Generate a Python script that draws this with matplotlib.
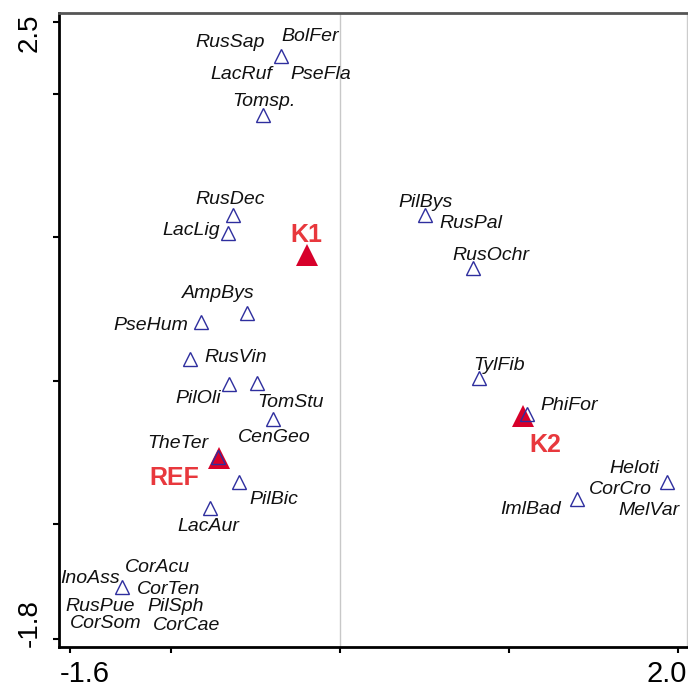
import matplotlib
matplotlib.use("Agg")
import matplotlib.pyplot as plt
import matplotlib.transforms as mtransforms

# ---- data (ordination scores) ----
species = ["RusSap", "BolFer", "LacRuf", "PseFla", "Tomsp.", "RusDec", "LacLig",
           "AmpBys", "PseHum", "RusVin", "PilOli", "TomStu", "CenGeo", "TheTer",
           "PilBic", "LacAur", "CorAcu", "InoAss", "CorTen", "RusPue", "PilSph",
           "CorSom", "CorCae", "PilBys", "RusPal", "RusOchr", "TylFib", "PhiFor",
           "ImlBad", "Heloti", "CorCro", "MelVar"]
sp_x = [-0.351, -0.351, -0.351, -0.351, -0.457, -0.635, -0.665,
        -0.552, -0.824, -0.889, -0.659, -0.493, -0.398, -0.722,
        -0.599, -0.771, -1.292, -1.292, -1.292, -1.292, -1.292,
        -1.292, -1.292, 0.502, 0.502, 0.786, 0.822, 1.106,
        1.402, 1.935, 1.935, 1.935]
sp_y = [2.263, 2.263, 2.263, 2.263, 1.852, 1.155, 1.030,
        0.472, 0.409, 0.152, -0.023, -0.016, -0.267, -0.532,
        -0.706, -0.887, -1.437, -1.437, -1.437, -1.437, -1.437,
        -1.437, -1.437, 1.155, 1.155, 0.786, 0.019, -0.232,
        -0.824, -0.706, -0.706, -0.706]

sites = ["K1", "REF", "K2"]
site_x = [-0.197, -0.718, 1.082]
site_y = [0.876, -0.538, -0.246]

xtick_vals = [-1.6, -1.0, 0.0, 1.0, 2.0]
xtick_labels = ["-1.6", "", "", "", "2.0"]
ytick_vals = [2.5, 2.0, 1.0, 0.0, -1.0, -1.8]
ytick_labels = ["2.5", "", "", "", "", "-1.8"]

# ---- layout: label offsets in pixels (dx right, dy down) from the point to baseline centre ----
sp_off = {
    "RusSap": (-51, -9), "BolFer": (29, -15), "LacRuf": (-40, 23), "PseFla": (40, 23),
    "Tomsp.": (1, -9), "RusDec": (-3, -11), "LacLig": (-37, 2), "AmpBys": (-29, -15),
    "PseHum": (-50, 8), "RusVin": (46, 3), "PilOli": (-31, 19), "TomStu": (34, 24),
    "CenGeo": (1, 23), "TheTer": (-40, -9), "PilBic": (35, 22), "LacAur": (-2, 23),
    "CorAcu": (35, -15), "InoAss": (-32, -4), "CorTen": (47, 7), "RusPue": (-22, 24),
    "PilSph": (54, 24), "CorSom": (-16, 41), "CorCae": (65, 43), "PilBys": (1, -8),
    "RusPal": (46, 13), "RusOchr": (18, -8), "TylFib": (20, -8), "PhiFor": (42, -4),
    "ImlBad": (-46, 15), "Heloti": (-33, -9), "CorCro": (-47, 12), "MelVar": (-18, 33),
}
site_off = {"K1": (-1, -13), "REF": (-45, 27), "K2": (22, 36)}

PX2PT = 0.72

fig = plt.figure(figsize=(6.88, 6.87), dpi=100)
ax = fig.add_axes([59 / 688, 40 / 687, 628 / 688, 634 / 687])
ax.set_xlim(-1.665, 2.053)
ax.set_ylim(-1.855, 2.563)

ax.axvline(0.0, color="#c8c8c8", lw=1.0, zorder=0)

ax.plot(site_x, site_y, linestyle="none", marker="^", ms=16, color="#D7002A",
        markeredgewidth=0, zorder=2)

# draw each distinct species position once (several species share coordinates)
uniq = sorted(set(zip(sp_x, sp_y)))
ux = [p[0] for p in uniq]
uy = [p[1] for p in uniq]
ax.plot(ux, uy, linestyle="none", marker="^", ms=9.5, markerfacecolor="none",
        markeredgecolor="#2E2E9E", markeredgewidth=1.0, zorder=3)

for name, x, y in zip(species, sp_x, sp_y):
    dx, dy = sp_off[name]
    ax.annotate(name, (x, y), xytext=(dx * PX2PT, -dy * PX2PT), textcoords="offset points",
                ha="center", va="baseline", fontsize=14, fontstyle="italic",
                family="Liberation Sans", color="#111111", zorder=4)

for name, x, y in zip(sites, site_x, site_y):
    dx, dy = site_off[name]
    ax.annotate(name, (x, y), xytext=(dx * PX2PT, -dy * PX2PT), textcoords="offset points",
                ha="center", va="baseline", fontsize=18, fontweight="bold",
                family="Liberation Sans", color="#E8383D", zorder=4)

ax.set_xticks(xtick_vals)
ax.set_xticklabels(xtick_labels, fontsize=21, family="Liberation Sans")
ax.set_yticks(ytick_vals)
ax.set_yticklabels(ytick_labels, fontsize=20, family="Liberation Sans", rotation=90)
ax.tick_params(axis="both", direction="out", length=4, width=1.5, color="black")
ax.tick_params(axis="x", pad=5)
ax.tick_params(axis="y", pad=8)

# keep the end tick labels inside the plotting frame, as in the reference
xl = ax.get_xticklabels()
xl[0].set_ha("left")
xl[-1].set_ha("right")
yl = ax.get_yticklabels()
yl[0].set_va("top")
yl[-1].set_va("bottom")

dpi_scale = fig.dpi_scale_trans
xl[0].set_transform(xl[0].get_transform() + mtransforms.ScaledTranslation(-0.10, 0, dpi_scale))
xl[-1].set_transform(xl[-1].get_transform() + mtransforms.ScaledTranslation(0.09, 0, dpi_scale))
yl[0].set_transform(yl[0].get_transform() + mtransforms.ScaledTranslation(0, 0.09, dpi_scale))
yl[-1].set_transform(yl[-1].get_transform() + mtransforms.ScaledTranslation(0, -0.08, dpi_scale))

ax.spines["left"].set_linewidth(2.0)
ax.spines["left"].set_color("black")
ax.spines["bottom"].set_linewidth(2.0)
ax.spines["bottom"].set_color("black")
ax.spines["top"].set_linewidth(2.0)
ax.spines["top"].set_color("#555555")
ax.spines["right"].set_linewidth(1.0)
ax.spines["right"].set_color("#cccccc")

fig.savefig("out.png", dpi=100)
